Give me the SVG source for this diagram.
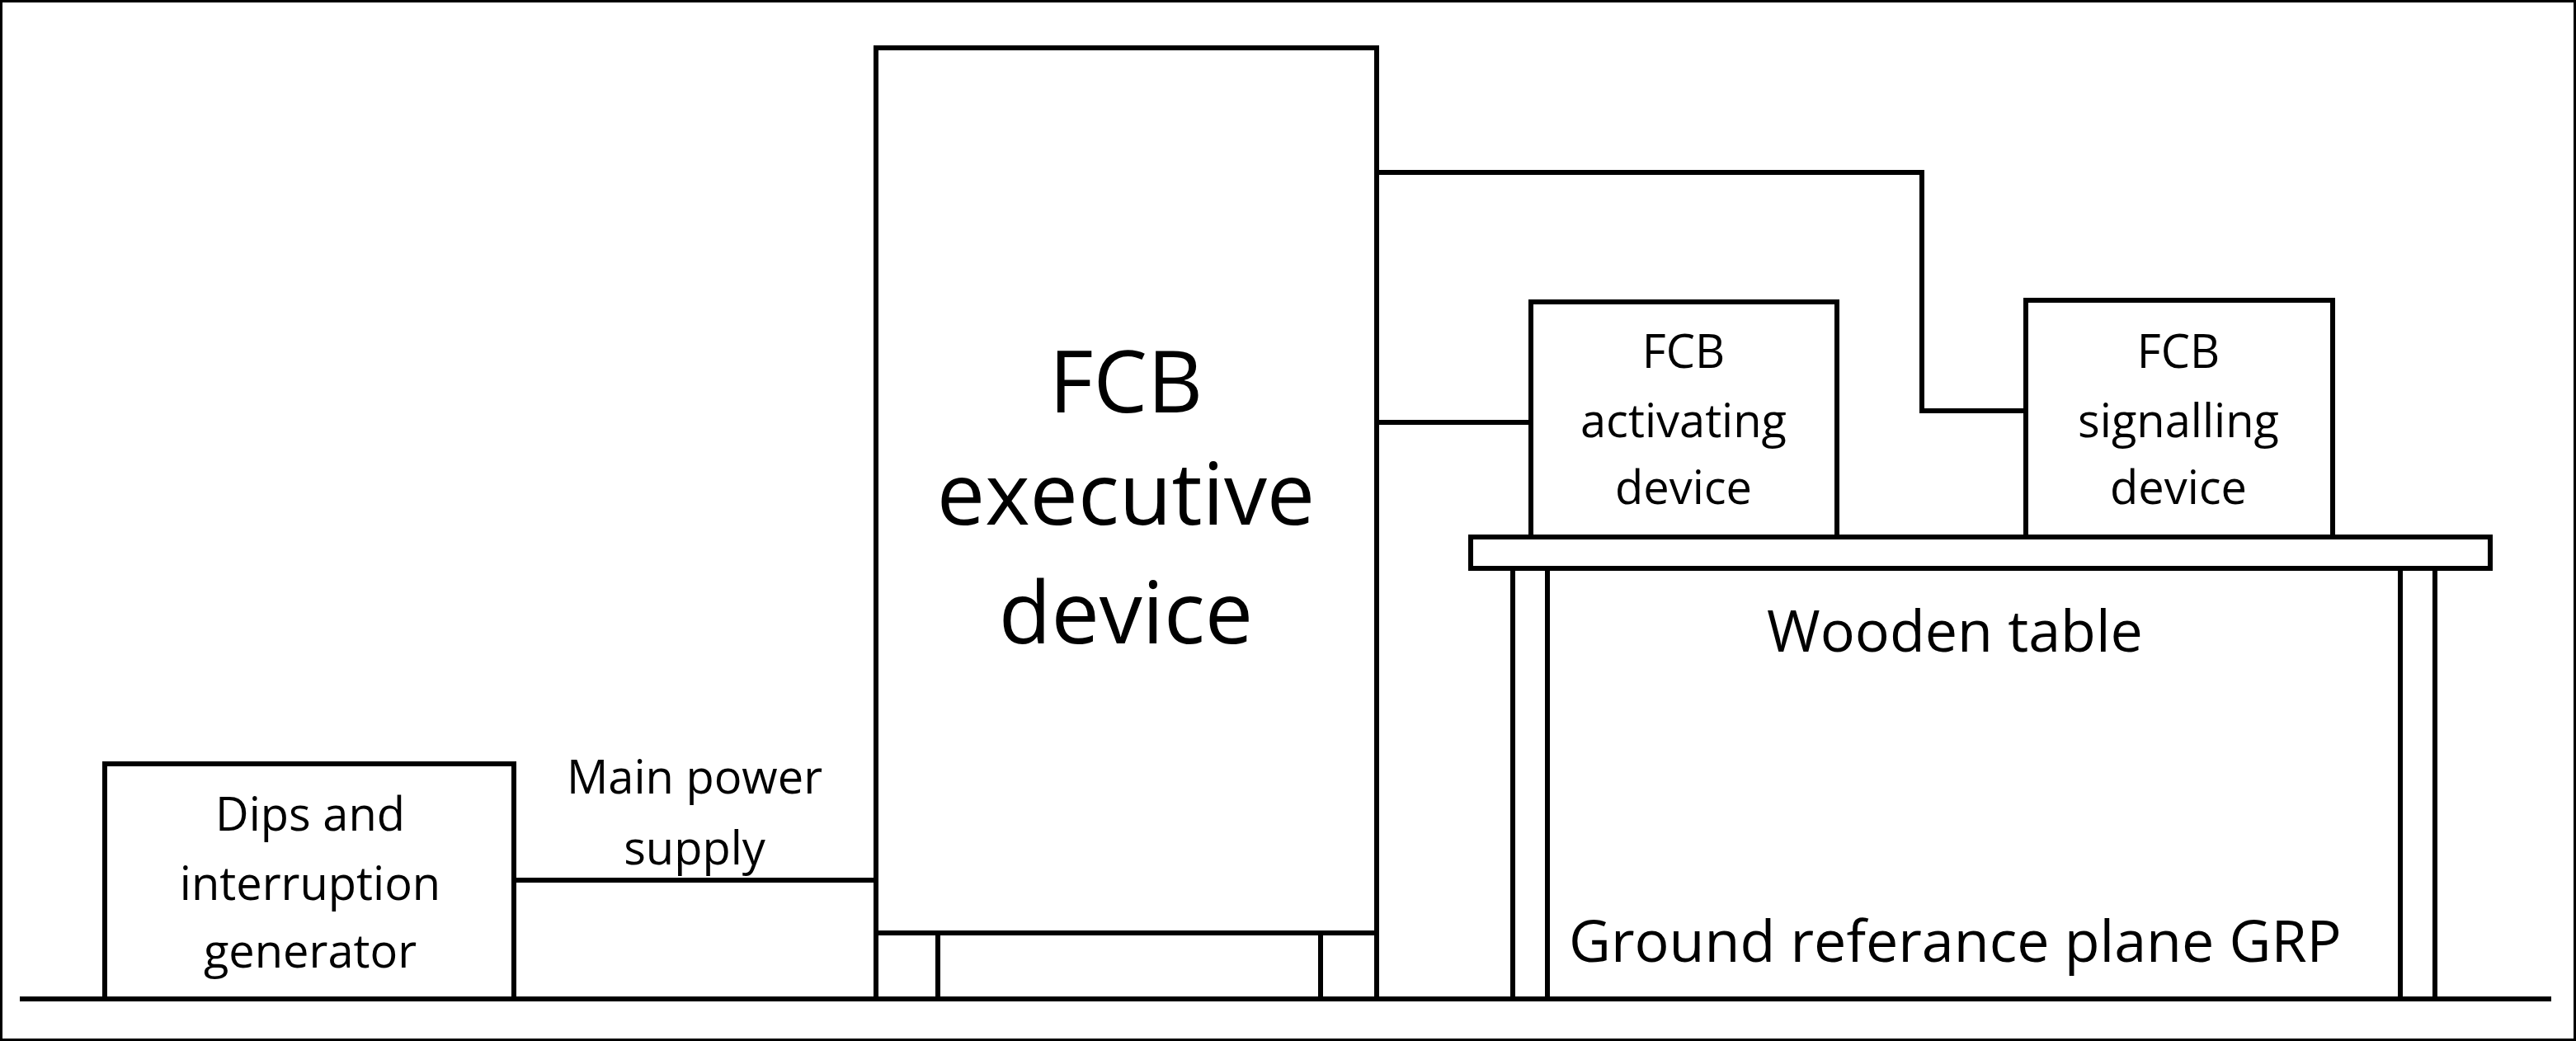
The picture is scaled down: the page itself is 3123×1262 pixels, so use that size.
<svg xmlns="http://www.w3.org/2000/svg" width="3123" height="1262" viewBox="0 0 3123 1262">
<style>
rect,line,polyline{fill:#fff;stroke:#000;stroke-width:6}
polyline,line{fill:none}
text{font-family:"Open Sans","Liberation Sans",sans-serif;fill:#000;text-anchor:middle;font-size:56px}
.big{font-size:104px}
.tbl{font-size:70px}
</style>
<rect width="3123" height="1262" fill="#fff" stroke="none"/>
<line x1="24" y1="1211" x2="3093" y2="1211"/>
<g id="connectors">
<line x1="623" y1="1067" x2="1062" y2="1067"/>
<polyline points="1669,209 2330,209 2330,498 2456,498"/>
<line x1="1669" y1="512" x2="1856" y2="512"/>
</g>
<text x="842" y="962">Main power</text>
<text x="842" y="1048">supply</text>
<g id="dips"><rect x="127" y="926" width="496" height="285"/>
<text x="376" y="1007">Dips and</text><text x="376" y="1091">interruption</text><text x="376" y="1173">generator</text></g>
<g id="exec"><rect x="1062" y="58" width="607" height="1073"/>
<rect x="1062" y="1131" width="75" height="80"/><rect x="1601" y="1131" width="68" height="80"/>
<text class="big" x="1365" y="500">FCB</text><text class="big" x="1365" y="636">executive</text><text class="big" x="1365" y="780">device</text></g>
<g id="table"><rect x="1834" y="689" width="42" height="522"/><rect x="2910" y="689" width="42" height="522"/>
<rect x="1783" y="651" width="1236" height="38"/>
<text class="tbl" x="2370" y="790">Wooden table</text>
<text class="tbl" x="1902" y="1166" style="text-anchor:start">Ground referance plane GRP</text></g>
<g id="activating"><rect x="1856" y="366" width="371" height="285"/>
<text x="2041" y="446">FCB</text><text x="2041" y="530">activating</text><text x="2041" y="611">device</text></g>
<g id="signalling"><rect x="2456" y="364" width="372" height="287"/>
<text x="2641" y="446">FCB</text><text x="2641" y="530">signalling</text><text x="2641" y="611">device</text></g>
</svg>
